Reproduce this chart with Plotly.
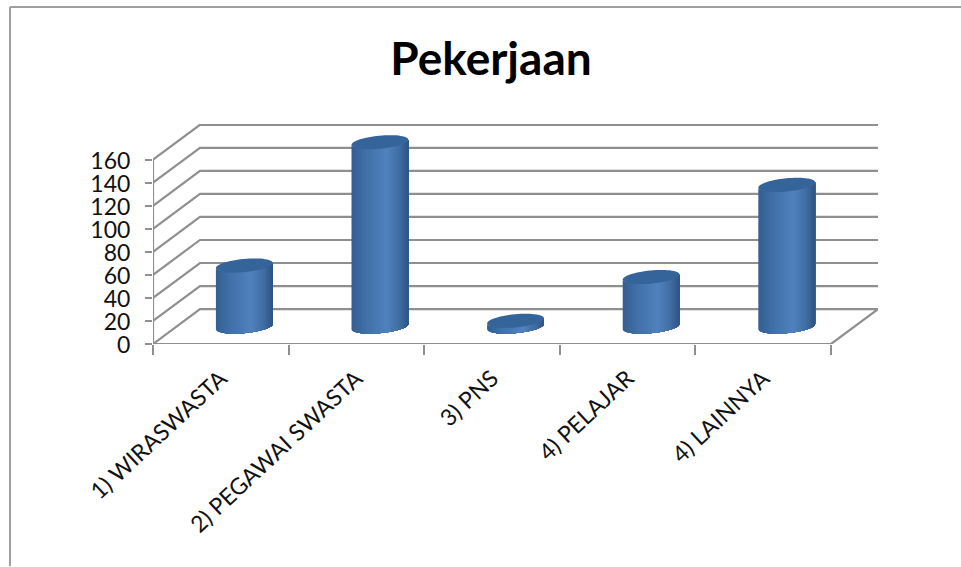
import numpy as np
import plotly.graph_objects as go

TITLE = "Pekerjaan"
categories = ["1) WIRASWASTA", "2) PEGAWAI SWASTA", "3) PNS", "4) PELAJAR", "4) LAINNYA"]
values = [53, 160, 5, 43, 123]
y_ticks = [0, 20, 40, 60, 80, 100, 120, 140, 160]

# pixel scale of the plot area
W, H = 961, 567
LEFT, RIGHT, TOP, BOTTOM = 153, 878, 123.7, 344.3
PX_X = 135.7
PX_Y = 1.155
DEPTH_X = 47 / PX_X
DEPTH_Y = 35 / PX_Y
GREY = "#8f8f8f"
N_STRIPS = 60
U_STEPS = np.linspace(0, 1, N_STRIPS + 1)
SEMI_A = 28.4 / PX_X
SHEAR = 2.6 / PX_Y
SEMI_B = 6.6 / PX_Y


def mix(u):
    stops = [(0, (50, 94, 146)), (0.25, (66, 112, 168)), (0.62, (80, 130, 190)), (0.85, (64, 108, 162)), (1, (46, 84, 130))]
    for (a, ca), (b, cb) in zip(stops, stops[1:]):
        if u <= b:
            f = (u - a) / (b - a)
            c = [round(x + (y - x) * f) for x, y in zip(ca, cb)]
            return f"rgb({c[0]},{c[1]},{c[2]})"
    return "rgb(46,84,130)"


def ring(cx, cy, t):
    return cx + SEMI_A * np.cos(t), cy + SHEAR * np.cos(t) + SEMI_B * np.sin(t)


fig = go.Figure()


def line(x, y, w=2.2, color=GREY):
    fig.add_trace(go.Scatter(x=x, y=y, mode="lines", line=dict(color=color, width=w),
                             hoverinfo="skip", showlegend=False, cliponaxis=False))


x_end = len(categories) + DEPTH_X
# wall and side gridlines
for v in y_ticks:
    line([0, DEPTH_X, x_end], [v, v + DEPTH_Y, v + DEPTH_Y])
# axes and floor
line([0, 0], [0, y_ticks[-1]], 2.2)
line([0, len(categories), x_end], [0, 0, DEPTH_Y], 2.2)

# cylinders: each strip runs from its left edge to the right end, painted left to right
for i, v in enumerate(values):
    cx = i + 0.5 + DEPTH_X / 2
    base = DEPTH_Y / 2
    top = base + v
    for k in range(N_STRIPS):
        u0 = U_STEPS[k]
        t0 = np.pi + np.arccos(1 - 2 * u0) if u0 > 0 else np.pi
        t = np.linspace(t0, 2 * np.pi, 40)
        xb, yb = ring(cx, base, t)
        xt, yt = ring(cx, top, t[::-1])
        col = mix(float(U_STEPS[k] + U_STEPS[k + 1]) / 2)
        fig.add_trace(go.Scatter(x=np.r_[xb, xt], y=np.r_[yb, yt], mode="none", fill="toself",
                                 fillcolor=col, hoverinfo="skip", showlegend=False, cliponaxis=False))
    tt = np.linspace(0, 2 * np.pi, 60)
    xc, yc = ring(cx, top, tt)
    fig.add_trace(go.Scatter(x=xc, y=yc, mode="none", fill="toself", fillcolor="#35649b",
                             hoverinfo="skip", showlegend=False, cliponaxis=False))

fig.update_layout(
    width=W, height=H, autosize=False,
    margin=dict(l=LEFT, r=W - RIGHT, t=TOP, b=H - BOTTOM, pad=0),
    paper_bgcolor="white", plot_bgcolor="white",
    font=dict(family="Lato", color="#111111"),
    title=dict(text=TITLE, font=dict(family="Lato", size=46, color="black", weight="bold"),
               x=491 / W, xref="container", xanchor="center", y=1 - 59 / H, yref="container", yanchor="middle"),
    xaxis=dict(range=[0, x_end], tickmode="array", tickvals=[i + 0.5 for i in range(len(categories))],
               ticktext=categories, tickangle=-43, ticks="outside", ticklen=11, tickcolor="rgba(0,0,0,0)",
               tickfont=dict(size=23), showgrid=False, zeroline=False, showline=False,
               minor=dict(tickmode="array", tickvals=list(range(len(categories) + 1)), ticks="outside",
                          ticklen=10, tickwidth=2, tickcolor=GREY, showgrid=False)),
    yaxis=dict(range=[0, (BOTTOM - TOP) / PX_Y], tickmode="array", tickvals=y_ticks, ticks="outside",
               ticklen=7, tickwidth=2, tickcolor=GREY, tickfont=dict(size=23), showgrid=False,
               zeroline=False, showline=False, ticklabelstandoff=10, ticklabelshift=1),
    shapes=[
        dict(type="line", xref="paper", yref="paper", x0=(10 - LEFT) / (RIGHT - LEFT), x1=(10 - LEFT) / (RIGHT - LEFT),
             y0=(BOTTOM - H) / (BOTTOM - TOP), y1=(BOTTOM - 6.5) / (BOTTOM - TOP), line=dict(color="#a0a0a0", width=2)),
        dict(type="line", xref="paper", yref="paper", x0=(10 - LEFT) / (RIGHT - LEFT), x1=(W - LEFT) / (RIGHT - LEFT),
             y0=(BOTTOM - 6.5) / (BOTTOM - TOP), y1=(BOTTOM - 6.5) / (BOTTOM - TOP), line=dict(color="#a0a0a0", width=2)),
    ],
)

fig.write_html("out.html", config={"displayModeBar": False}, post_script="document.body.style.margin='0';")
